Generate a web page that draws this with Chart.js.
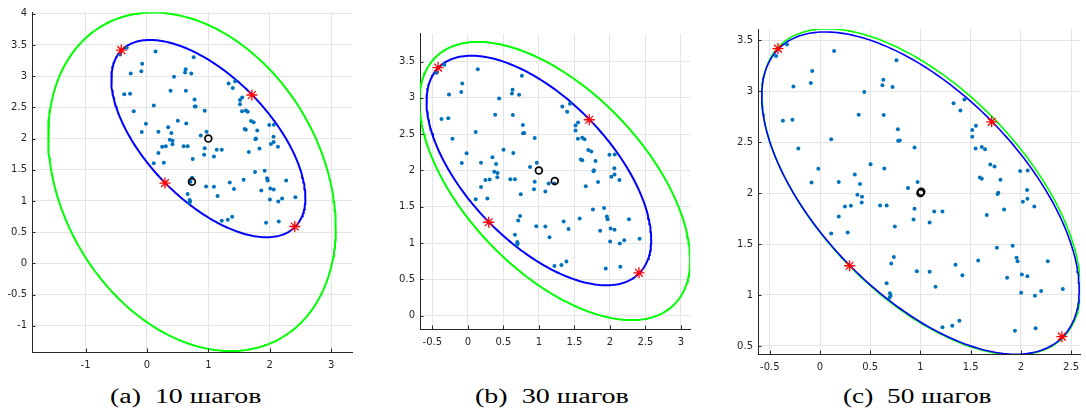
<!DOCTYPE html>
<html>
<head>
<meta charset="utf-8">
<script src="https://cdn.jsdelivr.net/npm/chart.js@4.4.1/dist/chart.umd.min.js"></script>
<style>
  html, body { margin: 0; padding: 0; background: #ffffff; }
  #wrap { position: relative; width: 1086px; height: 416px; overflow: hidden; }
  #wrap canvas { position: absolute; }
  .cap {
    position: absolute; top: 385px;
    font-family: "Liberation Serif", "DejaVu Serif", serif;
    font-size: 20px; line-height: 22px; color: #000; white-space: pre;
    transform-origin: left top;
  }
  .cap .lbl { margin-right: 0.5em; }
</style>
</head>
<body>
<div id="wrap"></div>
<script>
// ---- sample points (shared by all three panels) ----
const sampleX = [
  -0.438, -0.330, 0.140, -0.078, -0.092, -0.265, 0.441, -0.370, -0.275, 0.385,
  0.111, -0.216, -0.017, 0.346, -0.085, 0.186, 0.398, 0.761, 0.630, 0.621,
  0.722, 0.634, 0.775, 0.778, 0.794, 0.941, 0.503, 0.640, 0.971, 0.876,
  1.330, 1.438, 1.398, 1.516, 1.516, 1.552, 1.549, 1.611, 1.643, 1.696,
  1.738, 1.591, 1.611, 1.797, 1.993, 2.068, 2.062, 1.775, 1.768, 0.372,
  0.418, 0.415, 0.248, 0.307, 0.186, 0.111, 0.275, 0.598, 0.663, 0.941,
  1.137, 1.219, 0.745, 0.931, 1.091, 0.735, 0.709, 0.964, 1.091, 1.150,
  1.349, 1.418, 0.663, 0.696, 0.702, 0.692, 1.219, 1.317, 1.388, 2.065,
  2.020, 2.134, 1.833, 1.660, 1.918, 1.761, 1.575, 1.957, 1.967, 2.268,
  1.863, 2.010, 2.065, 2.003, 2.140, 2.202, 2.418, 1.941, 2.147
];
const sampleY = [
  3.346, 3.457, 3.395, 3.199, 3.081, 3.045, 2.993, 2.709, 2.719, 2.768,
  2.529, 2.437, 2.238, 2.183, 2.104, 2.108, 2.088, 3.304, 3.111, 3.059,
  3.042, 2.765, 2.627, 2.513, 2.516, 2.447, 2.284, 2.241, 2.108, 2.049,
  2.882, 2.918, 2.810, 2.618, 2.552, 2.660, 2.437, 2.451, 2.431, 2.281,
  2.261, 2.153, 2.140, 2.130, 2.216, 2.222, 2.030, 2.003, 1.990, 1.983,
  1.964, 1.908, 1.869, 1.876, 1.771, 1.604, 1.614, 1.879, 1.879, 1.846,
  1.820, 1.820, 1.673, 1.741, 1.712, 1.372, 1.310, 1.232, 1.228, 1.081,
  1.297, 1.193, 1.114, 1.016, 0.993, 0.973, 0.683, 0.699, 0.748, 1.944,
  1.915, 1.869, 1.840, 1.784, 1.483, 1.464, 1.339, 1.366, 1.330, 1.330,
  1.170, 1.202, 1.183, 1.023, 0.993, 1.039, 1.059, 0.650, 0.673
];

// ---- marked points on the true ellipse ----
const starX = [-0.419, 1.709, 0.294, 2.408];
const starY = [3.418, 2.699, 1.287, 0.591];

// ---- true distribution: mean and ellipse shape matrix ----
const trueMean = [1.0, 2.0];
const trueShape = [2.5, -1.5, 2.5];          // [s11, s12, s22]

// ---- estimates after 10, 30 and 50 steps ----
const estMeanA = [0.733, 1.308];
const estShapeA = [5.49, -1.72, 7.36];
const estMeanB = [1.224, 1.855];
const estShapeB = [3.63, -2.07, 3.67];
const estMeanC = [1.008, 2.012];
const estShapeC = [2.52, -1.50, 2.56];

// ---- axis limits and ticks ----
const xLimA = [-1.873, 3.344], yLimA = [-1.42, 4.024];
const xLimB = [-0.673, 3.130], yLimB = [-0.183, 3.884];
const xLimC = [-0.618, 2.591], yLimC = [0.421, 3.610];
const xTicksA = [-1, 0, 1, 2, 3];
const yTicksA = [-1, -0.5, 0, 0.5, 1, 1.5, 2, 2.5, 3, 3.5, 4];
const xTicksB = [-0.5, 0, 0.5, 1, 1.5, 2, 2.5, 3];
const yTicksB = [0, 0.5, 1, 1.5, 2, 2.5, 3, 3.5];
const xTicksC = [-0.5, 0, 0.5, 1, 1.5, 2, 2.5];
const yTicksC = [0.5, 1, 1.5, 2, 2.5, 3, 3.5];

// ---- captions ----
const capLabels = ['(a)', '(b)', '(c)'];
const capTexts = ['10 шагов', '30 шагов', '50 шагов'];

// outline of {m + L u : |u| = 1}, L = Cholesky factor of the shape matrix
function ellipseOutline(m, s) {
  const a = Math.sqrt(s[0]);
  const b = s[1] / a;
  const c = Math.sqrt(s[2] - b * b);
  const pts = [];
  for (let i = 0; i <= 240; i++) {
    const t = (i / 240) * 2 * Math.PI;
    pts.push({ x: m[0] + a * Math.cos(t), y: m[1] + b * Math.cos(t) + c * Math.sin(t) });
  }
  return pts;
}

const toPts = (xs, ys) => xs.map((x, i) => ({ x, y: ys[i] }));

// short inward tick marks, as in MATLAB-style axes
const inwardTicks = {
  id: 'inwardTicks',
  afterDatasetsDraw(chart) {
    const { ctx, chartArea: ca, scales } = chart;
    ctx.save();
    ctx.strokeStyle = '#262626';
    ctx.lineWidth = 1;
    ctx.beginPath();
    scales.x.ticks.forEach(t => {
      const px = Math.round(scales.x.getPixelForValue(t.value)) + 0.5;
      ctx.moveTo(px, ca.bottom); ctx.lineTo(px, ca.bottom - 3.5);
    });
    scales.y.ticks.forEach(t => {
      const py = Math.round(scales.y.getPixelForValue(t.value)) + 0.5;
      ctx.moveTo(ca.left, py); ctx.lineTo(ca.left + 3.5, py);
    });
    ctx.stroke();
    ctx.restore();
  }
};

const fmt = v => String(Math.round(v * 100) / 100);

function makePanel(p) {
  const yAxisW = 44, xAxisH = 30, padR = 2;
  const cv = document.createElement('canvas');
  const W = (p.rect[2] - p.rect[0]) + yAxisW + padR;
  const H = p.rect[3] + xAxisH;
  cv.width = Math.round(W); cv.height = Math.round(H);
  cv.style.left = (p.rect[0] - yAxisW) + 'px';
  cv.style.top = '0px';
  document.getElementById('wrap').appendChild(cv);

  const axisCommon = {
    type: 'linear',
    grid: { color: '#e4e4e4', lineWidth: 1, drawTicks: false },
    border: { display: true, color: '#262626', width: 1 },
    ticks: {
      font: { family: 'DejaVu Sans', size: 10 },
      color: '#262626', autoSkip: false, maxRotation: 0,
      callback: v => fmt(v)
    }
  };

  new Chart(cv, {
    type: 'scatter',
    data: {
      datasets: [
        { data: toPts(starX, starY), pointStyle: 'star', pointRadius: 5.5,
          borderColor: '#ff0000', pointBorderWidth: 1.3, backgroundColor: '#ff0000', showLine: false },
        { data: [{ x: trueMean[0], y: trueMean[1] }, { x: p.mean[0], y: p.mean[1] }],
          pointStyle: 'circle', pointRadius: 3.4, borderColor: '#000000', pointBorderWidth: 1.7,
          backgroundColor: 'rgba(0,0,0,0)', showLine: false },
        { data: toPts(sampleX, sampleY), pointStyle: 'circle', pointRadius: 2.0,
          backgroundColor: '#0072bd', borderWidth: 0, pointBorderWidth: 0, showLine: false },
        { data: ellipseOutline(trueMean, trueShape), showLine: true, pointRadius: 0,
          borderColor: '#0000ff', borderWidth: p.lw, fill: false, tension: 0 },
        { data: ellipseOutline(p.mean, p.shape), showLine: true, pointRadius: 0,
          borderColor: '#00ff00', borderWidth: p.lw, fill: false, tension: 0 }
      ]
    },
    options: {
      responsive: false, animation: false, devicePixelRatio: 1,
      layout: { padding: { top: p.rect[1], right: padR, left: 0, bottom: 0 } },
      plugins: { legend: { display: false }, tooltip: { enabled: false } },
      scales: {
        x: Object.assign({}, axisCommon, {
          min: p.xLim[0], max: p.xLim[1],
          ticks: Object.assign({}, axisCommon.ticks, { padding: 7 }),
          afterBuildTicks: s => { s.ticks = p.xTicks.map(v => ({ value: v })); },
          afterFit: s => { s.height = xAxisH; }
        }),
        y: Object.assign({}, axisCommon, {
          min: p.yLim[0], max: p.yLim[1],
          ticks: Object.assign({}, axisCommon.ticks, { padding: 5 }),
          afterBuildTicks: s => { s.ticks = p.yTicks.map(v => ({ value: v })); },
          afterFit: s => { s.width = yAxisW; }
        })
      }
    },
    plugins: [inwardTicks]
  });
}

const panels = [
  { rect: [32.3, 12.3, 357.3, 352.0], xLim: xLimA, yLim: yLimA, xTicks: xTicksA, yTicks: yTicksA,
    mean: estMeanA, shape: estShapeA, lw: 2 },
  { rect: [420.0, 33.7, 695.3, 329.0], xLim: xLimB, yLim: yLimB, xTicks: xTicksB, yTicks: yTicksB,
    mean: estMeanB, shape: estShapeB, lw: 2 },
  { rect: [757.7, 29.0, 1085.0, 354.3], xLim: xLimC, yLim: yLimC, xTicks: xTicksC, yTicks: yTicksC,
    mean: estMeanC, shape: estShapeC, lw: 1.6 }
];
panels.forEach(makePanel);

// captions under each panel
const capCenters = [186, 552, 917.5];
const capWidths = [152, 154, 149];
capLabels.forEach((lbl, i) => {
  const d = document.createElement('div');
  d.className = 'cap';
  const s1 = document.createElement('span'); s1.className = 'lbl'; s1.textContent = lbl;
  const s2 = document.createElement('span'); s2.textContent = capTexts[i];
  d.appendChild(s1); d.appendChild(s2);
  document.getElementById('wrap').appendChild(d);
  const w = d.offsetWidth;
  const k = capWidths[i] / w;
  d.style.left = (capCenters[i] - capWidths[i] / 2) + 'px';
  d.style.transform = 'scaleX(' + k.toFixed(3) + ')';
});
</script>
</body>
</html>
